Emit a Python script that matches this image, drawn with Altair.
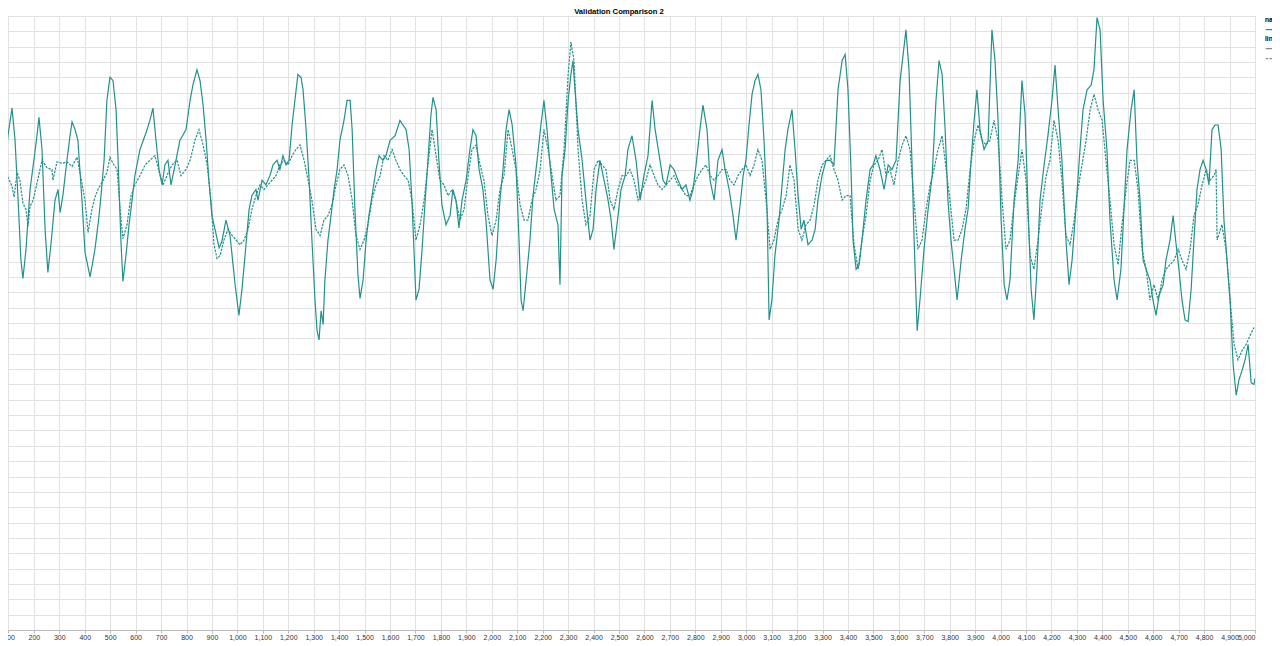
import altair as alt
import pandas as pd

# ---- data ----
chart_title = "Validation Comparison 2"
series_name = "data"
kinds = ["Actual", "Predicted"]

actual_x = [67, 87, 98, 114, 126, 138, 149, 157, 169, 185, 200, 212, 220, 232, 244, 255, 267, 283, 295, 303,
            314, 330, 342, 350, 362, 373, 389, 401, 421, 440, 452, 460, 476, 487, 499, 511, 523, 531, 542, 550,
            562, 574, 586, 597, 617, 641, 656, 668, 680, 692, 704, 715, 727, 739, 755, 774, 798, 814, 825, 841,
            853, 865, 877, 888, 900, 912, 928, 939, 955, 971, 991, 1006, 1018, 1030, 1046, 1057, 1073, 1081, 1097, 1112,
            1128, 1140, 1156, 1167, 1179, 1191, 1203, 1215, 1226, 1238, 1250, 1258, 1270, 1282, 1293, 1305, 1313, 1321, 1329, 1337,
            1344, 1356, 1368, 1380, 1392, 1403, 1419, 1431, 1443, 1451, 1462, 1474, 1482, 1494, 1506, 1517, 1533, 1545, 1557, 1572,
            1584, 1600, 1620, 1639, 1651, 1663, 1675, 1686, 1694, 1702, 1714, 1726, 1737, 1749, 1761, 1769, 1781, 1792, 1804, 1820,
            1836, 1847, 1859, 1871, 1883, 1899, 1914, 1926, 1938, 1950, 1965, 1977, 1993, 2005, 2017, 2032, 2044, 2056, 2068, 2080,
            2095, 2107, 2115, 2123, 2135, 2150, 2162, 2178, 2193, 2205, 2217, 2229, 2245, 2260, 2268, 2276, 2288, 2300, 2311, 2319,
            2327, 2339, 2355, 2370, 2386, 2398, 2410, 2425, 2445, 2457, 2469, 2480, 2492, 2508, 2524, 2535, 2551, 2567, 2583, 2598,
            2614, 2630, 2642, 2661, 2673, 2685, 2701, 2716, 2732, 2748, 2763, 2779, 2791, 2803, 2818, 2830, 2846, 2858, 2874, 2889,
            2905, 2917, 2933, 2948, 2960, 2976, 2988, 2999, 3011, 3023, 3035, 3046, 3058, 3070, 3082, 3090, 3101, 3113, 3129, 3141,
            3153, 3164, 3180, 3192, 3204, 3216, 3227, 3243, 3259, 3271, 3282, 3298, 3314, 3330, 3345, 3361, 3377, 3389, 3400, 3412,
            3420, 3432, 3444, 3455, 3471, 3487, 3499, 3510, 3526, 3542, 3558, 3573, 3589, 3605, 3617, 3628, 3640, 3652, 3660, 3672,
            3683, 3699, 3715, 3731, 3746, 3758, 3770, 3782, 3793, 3805, 3817, 3829, 3845, 3860, 3872, 3884, 3896, 3907, 3919, 3935,
            3951, 3966, 3978, 3990, 4002, 4014, 4025, 4037, 4053, 4069, 4084, 4096, 4108, 4120, 4131, 4143, 4155, 4171, 4186, 4202,
            4214, 4226, 4241, 4257, 4269, 4281, 4297, 4312, 4324, 4340, 4356, 4367, 4379, 4391, 4403, 4418, 4430, 4446, 4458, 4473,
            4485, 4497, 4513, 4525, 4536, 4548, 4560, 4572, 4587, 4599, 4611, 4623, 4639, 4650, 4666, 4678, 4690, 4701, 4713, 4725,
            4737, 4749, 4760, 4772, 4784, 4796, 4808, 4819, 4831, 4843, 4855, 4867, 4878, 4890, 4902, 4914, 4926, 4937, 4949, 4961,
            4973, 4985, 4996, 5000]
actual_y = [23.8, 30.0, 32.2, 34.0, 31.9, 28.0, 24.1, 22.9, 24.8, 28.7, 30.6, 32.2, 33.4, 31.3, 26.1, 23.3, 25.1, 28.0, 28.7, 27.2,
            28.3, 30.6, 32.2, 33.1, 32.6, 31.9, 28.0, 24.6, 23.0, 24.8, 26.4, 27.6, 30.6, 34.5, 36.0, 35.8, 33.9, 30.6, 25.4, 22.7,
            24.4, 26.4, 28.0, 29.6, 31.3, 32.4, 33.2, 34.0, 31.9, 30.0, 29.0, 30.3, 30.6, 29.0, 30.3, 31.9, 32.6, 34.5, 35.5, 36.5,
            35.8, 34.2, 31.9, 29.3, 27.0, 26.1, 24.9, 25.3, 26.7, 25.7, 22.5, 20.5, 22.2, 24.4, 27.4, 28.3, 28.7, 28.0, 29.3, 29.0,
            29.6, 30.3, 30.6, 30.0, 30.9, 30.3, 30.6, 32.9, 34.5, 36.2, 36.0, 35.2, 32.6, 29.3, 25.4, 21.5, 19.5, 18.9, 20.8, 19.9,
            22.8, 25.4, 27.0, 28.7, 30.0, 31.9, 33.2, 34.5, 34.5, 32.6, 27.4, 23.1, 21.6, 22.8, 25.4, 27.0, 28.7, 30.0, 30.9, 30.6,
            30.9, 31.9, 32.2, 33.2, 32.9, 32.6, 31.3, 28.0, 24.8, 21.5, 22.2, 24.8, 27.7, 30.6, 33.6, 34.7, 33.9, 30.6, 27.7, 26.4,
            27.0, 28.7, 28.0, 26.2, 28.0, 29.3, 31.3, 32.6, 32.2, 30.0, 28.7, 26.7, 22.8, 22.2, 24.1, 28.0, 30.0, 32.6, 33.9, 32.9,
            30.3, 25.4, 21.5, 20.8, 22.8, 25.4, 28.3, 30.6, 32.9, 34.5, 32.6, 30.3, 27.4, 26.4, 22.5, 29.6, 31.3, 34.5, 36.2, 37.1,
            35.2, 32.6, 30.6, 28.0, 25.4, 26.1, 28.7, 30.6, 29.0, 28.0, 26.7, 24.8, 26.4, 28.7, 29.6, 31.3, 32.2, 30.6, 28.0, 29.6,
            30.9, 34.5, 32.6, 30.6, 29.3, 29.0, 30.3, 30.0, 29.3, 28.7, 29.0, 28.0, 28.7, 30.3, 32.6, 34.2, 32.6, 29.3, 28.0, 30.6,
            31.3, 30.0, 28.7, 27.0, 25.4, 27.7, 29.6, 30.6, 32.9, 34.9, 35.8, 36.2, 35.2, 31.9, 27.4, 20.2, 21.5, 24.4, 26.7, 29.0,
            31.3, 32.6, 33.9, 31.3, 28.3, 26.1, 26.7, 25.1, 25.4, 26.1, 28.0, 29.6, 30.6, 30.6, 30.3, 35.2, 37.1, 37.5, 35.2, 30.0,
            25.4, 23.5, 23.8, 25.4, 28.0, 30.0, 30.3, 30.9, 30.0, 28.7, 30.3, 30.0, 30.6, 35.8, 37.5, 39.1, 36.5, 30.3, 25.4, 19.5,
            21.5, 24.8, 27.4, 29.6, 34.5, 37.1, 36.2, 32.6, 28.0, 25.4, 23.5, 21.5, 24.1, 26.1, 27.4, 30.6, 33.2, 35.2, 32.6, 31.3,
            31.9, 39.1, 37.1, 33.2, 26.7, 22.5, 21.5, 22.8, 28.0, 30.6, 35.8, 33.6, 27.4, 22.2, 20.2, 23.5, 28.0, 30.3, 32.2, 34.5,
            36.8, 33.9, 30.6, 25.4, 22.5, 24.1, 27.7, 31.3, 33.9, 35.2, 35.5, 36.5, 39.9, 39.1, 34.5, 31.3, 26.7, 22.8, 21.5, 23.5,
            27.4, 31.3, 33.9, 35.2, 30.6, 28.0, 24.1, 23.5, 22.8, 21.5, 20.5, 21.8, 22.5, 24.1, 25.4, 27.0, 25.1, 23.5, 21.5, 20.2,
            20.1, 22.2, 25.4, 28.7, 30.0, 30.6, 30.0, 29.0, 32.6, 32.9, 32.9, 31.3, 26.7, 24.1, 21.5, 17.3, 15.3, 16.3, 16.9, 17.6,
            18.6, 16.1, 16.0, 16.4]

predicted_x = [67, 87, 98, 114, 122, 134, 145, 157, 169, 177, 185, 197, 212, 232, 252, 271, 275, 291, 311, 330,
               350, 370, 381, 401, 413, 428, 440, 452, 472, 487, 499, 511, 527, 539, 550, 566, 582, 597, 617, 637,
               656, 676, 696, 708, 723, 743, 763, 778, 798, 814, 833, 849, 865, 881, 896, 908, 920, 932, 947, 963,
               979, 995, 1010, 1026, 1042, 1057, 1073, 1089, 1105, 1120, 1136, 1152, 1167, 1183, 1199, 1215, 1230, 1246, 1262, 1278,
               1293, 1309, 1325, 1340, 1356, 1372, 1388, 1403, 1419, 1435, 1451, 1466, 1482, 1498, 1513, 1529, 1545, 1561, 1576, 1592,
               1608, 1623, 1639, 1655, 1671, 1686, 1702, 1718, 1734, 1749, 1765, 1781, 1796, 1812, 1828, 1844, 1859, 1875, 1891, 1907,
               1922, 1938, 1954, 1969, 1985, 2001, 2017, 2032, 2048, 2064, 2080, 2095, 2111, 2127, 2142, 2158, 2174, 2190, 2205, 2221,
               2237, 2252, 2268, 2284, 2300, 2311, 2323, 2339, 2355, 2370, 2386, 2402, 2418, 2433, 2449, 2465, 2480, 2496, 2512, 2528,
               2543, 2559, 2575, 2591, 2606, 2622, 2638, 2653, 2669, 2685, 2701, 2716, 2732, 2748, 2763, 2779, 2795, 2811, 2826, 2842,
               2858, 2874, 2889, 2905, 2921, 2936, 2952, 2968, 2984, 2999, 3015, 3031, 3046, 3062, 3078, 3094, 3109, 3125, 3141, 3157,
               3172, 3188, 3204, 3219, 3235, 3251, 3267, 3282, 3298, 3314, 3330, 3345, 3361, 3377, 3392, 3408, 3424, 3440, 3455, 3471,
               3487, 3502, 3518, 3534, 3550, 3565, 3581, 3597, 3613, 3628, 3644, 3660, 3675, 3691, 3707, 3723, 3738, 3754, 3770, 3786,
               3801, 3817, 3833, 3848, 3864, 3880, 3896, 3911, 3927, 3943, 3958, 3974, 3990, 4006, 4021, 4037, 4053, 4069, 4084, 4100,
               4116, 4131, 4147, 4163, 4179, 4194, 4210, 4226, 4241, 4257, 4273, 4289, 4304, 4320, 4336, 4352, 4367, 4383, 4399, 4414,
               4430, 4446, 4462, 4477, 4493, 4509, 4525, 4540, 4556, 4572, 4587, 4603, 4619, 4635, 4650, 4666, 4682, 4698, 4713, 4729,
               4745, 4760, 4776, 4792, 4808, 4823, 4839, 4847, 4851, 4870, 4886, 4902, 4918, 4933, 4949, 4965, 4981, 4996]
predicted_y = [30.2, 30.1, 29.5, 28.9, 28.2, 29.8, 29.3, 27.8, 27.4, 26.3, 27.6, 28.0, 29.1, 30.6, 30.1, 30.0, 29.3, 30.5, 30.4, 30.5,
               30.2, 30.8, 29.8, 28.0, 25.9, 27.4, 28.2, 28.7, 29.3, 29.8, 30.8, 30.4, 30.0, 27.4, 25.5, 26.4, 28.3, 29.0, 29.6, 30.3,
               30.6, 30.9, 29.6, 29.0, 29.6, 30.3, 30.6, 29.6, 30.0, 30.6, 31.9, 32.6, 31.6, 30.3, 28.0, 25.1, 24.2, 24.4, 25.4, 26.1,
               25.7, 25.4, 25.1, 25.4, 26.1, 27.4, 28.3, 29.0, 28.7, 29.0, 29.3, 29.6, 30.3, 30.6, 30.3, 30.9, 31.3, 31.6, 30.6, 29.3,
               28.0, 26.1, 25.7, 26.7, 27.0, 27.7, 29.0, 30.0, 30.3, 29.6, 28.0, 25.7, 24.8, 25.4, 26.4, 28.0, 29.0, 29.6, 30.9, 30.6,
               31.3, 30.6, 30.0, 29.6, 29.3, 28.0, 25.4, 26.4, 28.0, 30.3, 32.6, 30.9, 29.3, 29.0, 28.3, 28.7, 28.0, 26.7, 27.4, 29.6,
               31.3, 31.6, 30.3, 29.3, 27.0, 25.7, 26.7, 28.7, 29.6, 32.6, 31.3, 30.0, 27.7, 26.7, 26.7, 28.0, 28.7, 30.0, 32.6, 31.3,
               29.6, 28.0, 28.3, 31.3, 36.2, 38.3, 37.1, 31.3, 28.0, 26.4, 27.0, 30.0, 30.6, 30.3, 30.0, 28.0, 27.4, 28.7, 29.6, 29.6,
               30.0, 29.3, 28.0, 28.7, 29.3, 30.3, 29.6, 29.0, 28.7, 29.0, 29.3, 29.6, 29.0, 28.7, 28.3, 28.3, 29.0, 29.6, 30.0, 30.3,
               29.6, 29.3, 29.6, 30.0, 30.0, 29.3, 29.0, 29.6, 30.0, 30.3, 29.6, 30.3, 31.3, 30.6, 28.0, 24.8, 25.4, 26.7, 27.4, 28.3,
               30.3, 29.3, 26.1, 25.4, 26.4, 26.7, 27.7, 29.3, 30.3, 30.6, 30.9, 30.0, 29.3, 28.0, 28.3, 28.3, 25.1, 23.5, 25.4, 27.0,
               29.3, 30.3, 30.6, 31.3, 29.6, 30.0, 29.0, 30.6, 31.6, 32.2, 31.3, 28.0, 24.8, 25.4, 27.4, 29.0, 30.0, 31.3, 32.2, 30.0,
               28.0, 25.4, 25.4, 26.1, 27.4, 30.0, 31.9, 32.9, 31.9, 31.6, 31.9, 33.2, 31.9, 28.0, 24.8, 25.4, 27.7, 29.6, 31.3, 29.3,
               24.4, 23.5, 25.4, 27.7, 29.6, 30.6, 33.2, 31.9, 29.3, 25.7, 25.1, 26.7, 28.7, 30.3, 31.9, 33.9, 34.9, 33.9, 33.2, 30.6,
               28.0, 25.1, 23.8, 26.4, 28.7, 30.6, 30.6, 28.7, 24.8, 23.5, 21.5, 22.5, 21.5, 22.8, 23.5, 23.8, 24.1, 24.8, 24.1, 23.5,
               24.8, 27.0, 27.7, 29.0, 30.0, 29.3, 29.6, 30.0, 25.4, 26.4, 24.8, 21.5, 18.6, 17.6, 18.2, 18.6, 19.2, 19.7]

x_ticks = list(range(0, 5001, 100))
y_ticks = list(range(0, 41))

# ---- long table ----
df = pd.concat([
    pd.DataFrame({"x": actual_x, "value": actual_y, "name": series_name, "lineKind": kinds[0]}),
    pd.DataFrame({"x": predicted_x, "value": predicted_y, "name": series_name, "lineKind": kinds[1]}),
], ignore_index=True)

PLOT_W, PLOT_H = 1272, 614

lines = (
    alt.Chart(df)
    .mark_line(strokeWidth=1.2, clip=True)
    .encode(
        x=alt.X("x:Q",
                scale=alt.Scale(domain=[0, 5000], nice=False),
                axis=alt.Axis(title=None, values=x_ticks, format=",.0f", labelFontSize=7,
                              labelOverlap=False, tickSize=3, labelPadding=0,
                              labelColor="#333", gridColor="#e2e2e2", tickColor="#bbb",
                              domainColor="#bbb")),
        y=alt.Y("value:Q",
                scale=alt.Scale(domain=[0, 40], nice=False),
                axis=alt.Axis(title=None, values=y_ticks, labels=False, ticks=False,
                              domain=False, gridColor="#e2e2e2")),
        color=alt.Color("name:N", scale=alt.Scale(range=["#21918c"]),
                        legend=alt.Legend(title="name", orient="none",
                                          legendX=PLOT_W + 10, legendY=1)),
        strokeDash=alt.StrokeDash("lineKind:N",
                                  scale=alt.Scale(domain=kinds, range=[[1, 0], [2.4, 1.2]]),
                                  legend=alt.Legend(title="lineKind", orient="none",
                                                    legendX=PLOT_W + 10, legendY=20)),
    )
)

title_text = (
    alt.Chart(pd.DataFrame({"t": [chart_title]}))
    .mark_text(fontSize=7.7, fontWeight="bold", align="center", baseline="alphabetic",
               color="#000")
    .encode(text="t:N", x=alt.value(PLOT_W / 2), y=alt.value(-2))
)

chart = (
    alt.layer(lines, title_text)
    .properties(
        width=PLOT_W,
        height=PLOT_H,
        padding={"left": -25, "top": 8, "right": 17, "bottom": 16},
        autosize=alt.AutoSizeParams(type="none"),
    )
    .configure(font="Liberation Sans")
    .configure_view(stroke="#e2e2e2")
    .configure_legend(titleFontSize=6.6, labelFontSize=6.5,
                      titlePadding=2, rowPadding=2, symbolSize=40, symbolStrokeWidth=1.2,
                      labelOffset=3, padding=0)
)

chart.save("out.html", embed_options={"renderer": "svg", "actions": False})
